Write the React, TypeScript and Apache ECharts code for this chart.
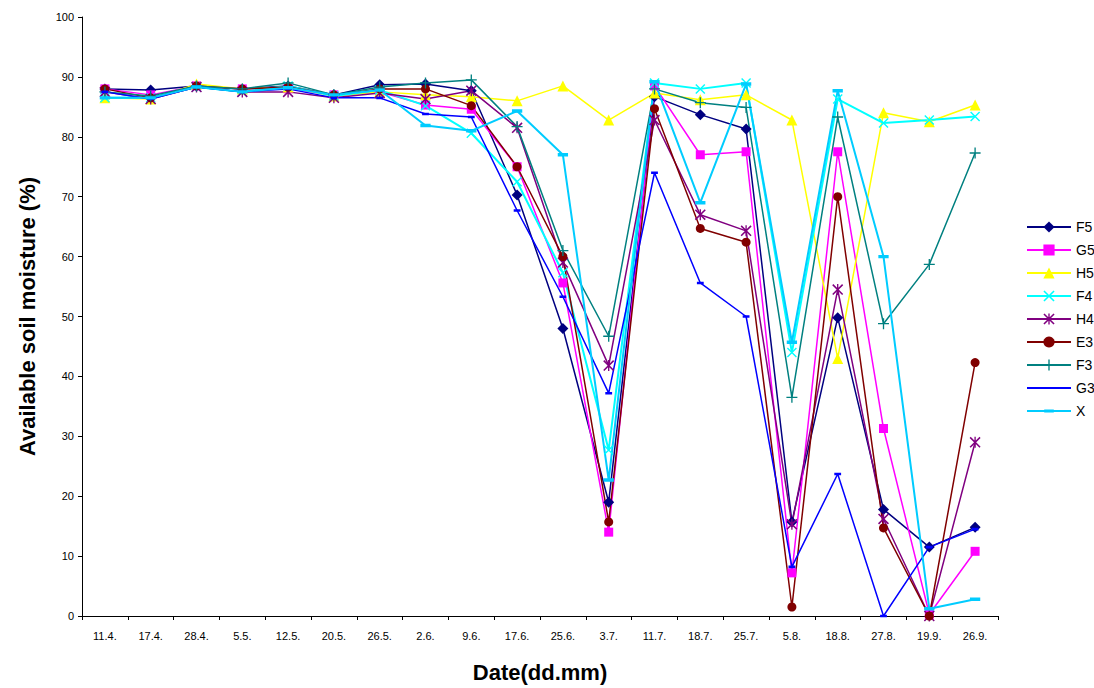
import React, { useEffect, useRef } from "react";
import * as echarts from "echarts";

const dates = ["11.4.", "17.4.", "28.4.", "5.5.", "12.5.", "20.5.", "26.5.", "2.6.", "9.6.", "17.6.", "25.6.", "3.7.", "11.7.", "18.7.", "25.7.", "5.8.", "18.8.", "27.8.", "19.9.", "26.9."];

const F5 = [88.0, 87.8, 88.5, 88.0, 88.5, 87.0, 88.7, 88.8, 87.7, 70.3, 48.0, 19.0, 86.7, 83.7, 81.3, 15.7, 49.8, 17.8, 11.5, 14.8];
const G5 = [88.0, 87.0, 88.5, 88.0, 88.0, 87.0, 87.5, 85.3, 84.6, 75.0, 55.6, 14.0, 88.5, 77.0, 77.5, 7.2, 77.5, 31.3, 0.3, 10.8];
const H5 = [86.5, 86.3, 88.8, 88.0, 88.3, 86.8, 87.5, 87.0, 86.7, 86.0, 88.5, 82.8, 87.3, 86.2, 87.0, 82.8, 43.0, 84.0, 82.5, 85.3];
const F4 = [86.5, 86.5, 88.3, 87.5, 88.5, 86.8, 87.8, 85.2, 80.6, 72.5, 57.3, 27.7, 89.0, 88.0, 89.0, 44.0, 86.3, 82.3, 82.8, 83.4];
const H4 = [87.5, 86.3, 88.3, 87.5, 87.5, 86.5, 87.3, 86.3, 87.7, 81.5, 59.0, 41.8, 82.8, 67.0, 64.3, 15.3, 54.5, 16.2, 0.0, 29.0];
const E3 = [88.0, 86.5, 88.5, 88.0, 88.3, 87.0, 88.0, 88.0, 85.2, 75.0, 60.0, 15.7, 84.7, 64.7, 62.4, 1.5, 70.0, 14.7, 0.0, 42.3];
const F3 = [87.5, 86.8, 88.5, 88.0, 89.0, 87.0, 88.3, 89.0, 89.5, 81.7, 61.0, 46.7, 88.0, 85.7, 84.9, 36.5, 83.3, 48.8, 58.7, 77.3];
const G3 = [87.5, 86.3, 88.3, 87.5, 88.0, 86.5, 86.5, 83.8, 83.3, 67.7, 53.3, 37.2, 74.0, 55.6, 50.0, 8.2, 23.7, 0.0, 11.5, 14.5];
const X = [86.5, 86.5, 88.3, 87.5, 88.2, 87.0, 87.8, 81.9, 81.0, 84.3, 77.0, 22.7, 89.2, 69.0, 88.8, 45.7, 87.7, 60.0, 1.2, 2.8];

// Marker glyphs built from filled bars so they read as stroked shapes
const crossPath = "path://M0,1 L1,0 L10,9 L9,10 Z M9,0 L10,1 L1,10 L0,9 Z";
const starPath = "path://M0,1 L1,0 L10,9 L9,10 Z M9,0 L10,1 L1,10 L0,9 Z M4.4,0 L5.6,0 L5.6,10 L4.4,10 Z";
const plusPath = "path://M4.4,0 L5.6,0 L5.6,10 L4.4,10 Z M0,4.4 L10,4.4 L10,5.6 L0,5.6 Z";
// Dash markers padded to a square box (empty corner sub-paths) so they stay flat in the legend too
const shortDash = "path://M0,0 L0,0 Z M20,20 L20,20 Z M6,8.5 L14,8.5 L14,11.5 L6,11.5 Z";
const longDash = "path://M0,0 L0,0 Z M14,14 L14,14 Z M1,5 L13,5 L13,9 L1,9 Z";

const seriesDefs = [
  { name: "F5", data: F5, color: "#000080", symbol: "diamond", size: 11, width: 1.5 },
  { name: "G5", data: G5, color: "#FF00FF", symbol: "rect", size: 9, width: 1.5 },
  { name: "H5", data: H5, color: "#FFFF00", symbol: "triangle", size: 11, width: 1.5 },
  { name: "F4", data: F4, color: "#00FFFF", symbol: crossPath, size: 10, width: 2 },
  { name: "H4", data: H4, color: "#800080", symbol: starPath, size: 11, width: 1.5 },
  { name: "E3", data: E3, color: "#800000", symbol: "circle", size: 9, width: 1.5 },
  { name: "F3", data: F3, color: "#008080", symbol: plusPath, size: 11, width: 1.5 },
  { name: "G3", data: G3, color: "#0000FF", symbol: shortDash, size: 17, width: 1.5 },
  { name: "X", data: X, color: "#00CCFF", symbol: longDash, size: 12, width: 2 },
];

const FONT = "'Liberation Sans', Arial, sans-serif";

export default function App() {
  const ref = useRef<HTMLDivElement>(null);

  useEffect(() => {
    if (!ref.current) return;
    document.body.style.margin = "0";
    const chart = echarts.init(ref.current, null, { renderer: "svg" });
    chart.setOption({
      animation: false,
      backgroundColor: "#ffffff",
      textStyle: { fontFamily: FONT },
      grid: { left: 82, right: 96, top: 17, bottom: 71, containLabel: false },
      legend: {
        orient: "vertical",
        left: 1021,
        top: 215,
        itemWidth: 44,
        itemHeight: 14,
        itemGap: 9,
        textStyle: { fontFamily: FONT, fontSize: 14, color: "#000" },
        data: seriesDefs.map((s) => s.name),
      },
      xAxis: {
        type: "category",
        data: dates,
        boundaryGap: true,
        name: "Date(dd.mm)",
        nameLocation: "middle",
        nameGap: 45,
        nameTextStyle: { fontFamily: FONT, fontSize: 22, fontWeight: "bold", color: "#000" },
        axisLine: { lineStyle: { color: "#000", width: 1 } },
        axisTick: { show: true, alignWithLabel: false, length: 4, lineStyle: { color: "#000" } },
        axisLabel: { fontFamily: FONT, fontSize: 11, color: "#000", margin: 14, interval: 0 },
        splitLine: { show: false },
      },
      yAxis: {
        type: "value",
        min: 0,
        max: 100,
        interval: 10,
        name: "Available soil moisture (%)",
        nameLocation: "middle",
        nameGap: 44,
        nameTextStyle: { fontFamily: FONT, fontSize: 22, fontWeight: "bold", color: "#000" },
        axisLine: { show: true, lineStyle: { color: "#000", width: 1 } },
        axisTick: { show: true, length: 4, lineStyle: { color: "#000" } },
        axisLabel: { fontFamily: FONT, fontSize: 11, color: "#000", margin: 8 },
        splitLine: { show: false },
      },
      series: seriesDefs.map((s) => ({
        name: s.name,
        type: "line",
        data: s.data,
        symbol: s.symbol,
        symbolSize: s.size,
        showAllSymbol: true,
        lineStyle: { color: s.color, width: s.width },
        itemStyle: { color: s.color, borderWidth: 0 },
        emphasis: { disabled: true },
      })),
    });
    return () => chart.dispose();
  }, []);

  return <div ref={ref} style={{ width: 1094, height: 688 }} />;
}
